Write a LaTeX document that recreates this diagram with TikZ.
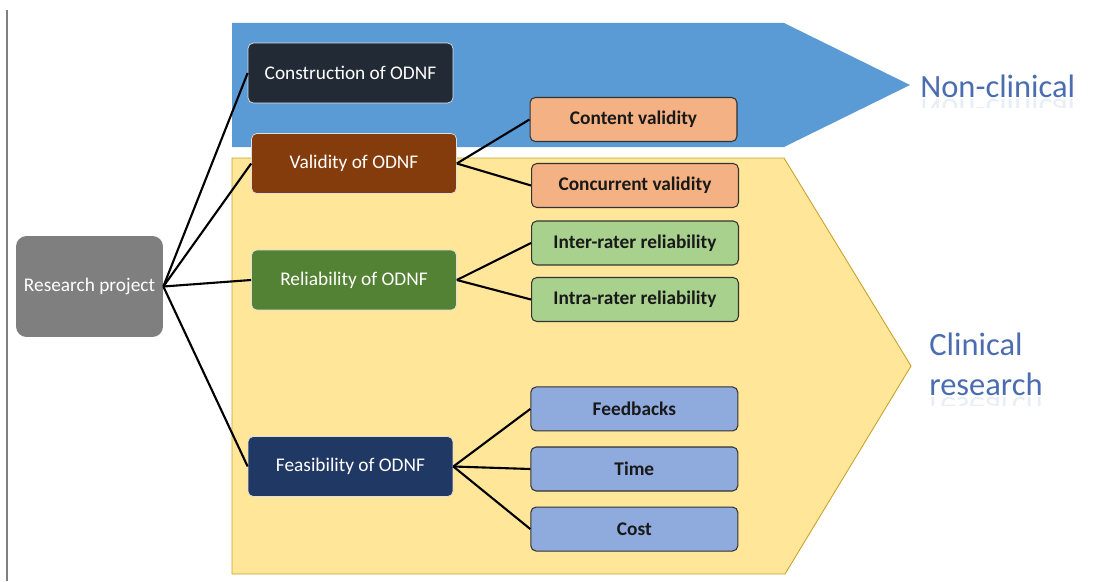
\documentclass[tikz,border=0pt]{standalone}
\usepackage{fontspec}
\setmainfont{Carlito}
\usetikzlibrary{positioning}

\definecolor{bandblue}{HTML}{5B9BD5}
\definecolor{bandyellow}{HTML}{FFE699}
\definecolor{bandgold}{HTML}{C9A227}
\definecolor{labelblue}{HTML}{4A6DB0}
\definecolor{projgray}{HTML}{7F7F7F}
\definecolor{constrdark}{HTML}{222A35}
\definecolor{validbrown}{HTML}{843C0C}
\definecolor{reliabgreen}{HTML}{548235}
\definecolor{feasnavy}{HTML}{203864}
\definecolor{validpeach}{HTML}{F4B183}
\definecolor{reliablight}{HTML}{A9D18E}
\definecolor{feaslight}{HTML}{8FAADC}

\tikzset{
	mainbox/.style={rectangle, rounded corners=3pt, minimum width=4.1cm, minimum height=1.2cm,
		draw=white!75!gray, line width=0.4pt, text=white, font=\fontsize{11}{13}\selectfont},
	subbox/.style={rectangle, rounded corners=3pt, minimum width=4.14cm, minimum height=0.88cm,
		draw=black!80, line width=0.6pt, text=black!90, font=\bfseries\fontsize{11}{13}\selectfont},
	bandlabel/.style={inner sep=0pt, text=labelblue, font=\fontsize{18.5}{22.8}\selectfont},
	link/.style={line width=1.2pt}
}

\begin{document}
\begin{tikzpicture}[x=0.02cm, y=-0.02cm]
					\useasboundingbox (0,0) rectangle (1094,581);
					\draw[gray, line width=0.8pt] (7,10) -- (7,581);
					
					% the two bands behind the boxes
					\fill[bandblue] (232,23) -- (784,23) -- (910,85) -- (784,147) -- (232,147) -- cycle;
					\filldraw[fill=bandyellow, draw=bandgold, line width=0.5pt]
						(232,158) -- (784,158) -- (911,366) -- (785,574) -- (232,574) -- cycle;
					
					\node[bandlabel, anchor=base west] (nonclin) at (920,97) {Non-clinical};
					\node[bandlabel, anchor=west, align=left] (clin) at (929,364) {Clinical\\research};
					
					% faint reflections under the labels
					\begin{scope}
						\clip (915,98) rectangle (1090,107);
						\node[bandlabel, opacity=0.12, yscale=-1, transform shape, anchor=base west] at (920,99) {Non-clinical};
					\end{scope}
					\begin{scope}
						\clip (925,396) rectangle (1090,405);
						\node[bandlabel, opacity=0.12, yscale=-1, transform shape, anchor=base west] at (929,397) {research};
					\end{scope}
					
					\node[rectangle, rounded corners=6pt, fill=projgray, text=white, minimum width=2.94cm,
						minimum height=2.02cm, font=\fontsize{11}{13}\selectfont] (research) at (89.5,286.5) {Research project};
					
					\node[mainbox, fill=constrdark] (constr) at (350.5,73) {Construction of ODNF};
					\node[mainbox, fill=validbrown] (valid) at (354,163.5) {Validity of ODNF};
					\node[mainbox, fill=reliabgreen] (reliab) at (354,280) {Reliability of ODNF};
					\node[mainbox, fill=feasnavy] (feas) at (350.5,466.5) {Feasibility of ODNF};
					
					\node[subbox, fill=validpeach] (content) at (633.5,119.5) {Content validity};
					\node[subbox, fill=validpeach] (concur) at (635,185.5) {Concurrent validity};
					\node[subbox, fill=reliablight] (inter) at (635,243) {Inter-rater reliability};
					\node[subbox, fill=reliablight] (intra) at (635,299.5) {Intra-rater reliability};
					\node[subbox, fill=feaslight, right=1.54cm of feas, yshift=-0.05cm] (time) {Time};
					\node[subbox, fill=feaslight, above=0.3cm of time] (feedback) {Feedbacks};
					\node[subbox, fill=feaslight, below=0.3cm of time] (cost) {Cost};
					
					\draw[link] (research.east) -- (constr.west);
					\draw[link] (research.east) -- (valid.west);
					\draw[link] (research.east) -- (reliab.west);
					\draw[link] (research.east) -- (feas.west);
					\draw[link] (valid.east) -- (content.west);
					\draw[link] (valid.east) -- (concur.west);
					\draw[link] (reliab.east) -- (inter.west);
					\draw[link] (reliab.east) -- (intra.west);
					\draw[link] (feas.east) -- (feedback.west);
					\draw[link] (feas.east) -- (time.west);
					\draw[link] (feas.east) -- (cost.west);
				\end{tikzpicture}
\end{document}
